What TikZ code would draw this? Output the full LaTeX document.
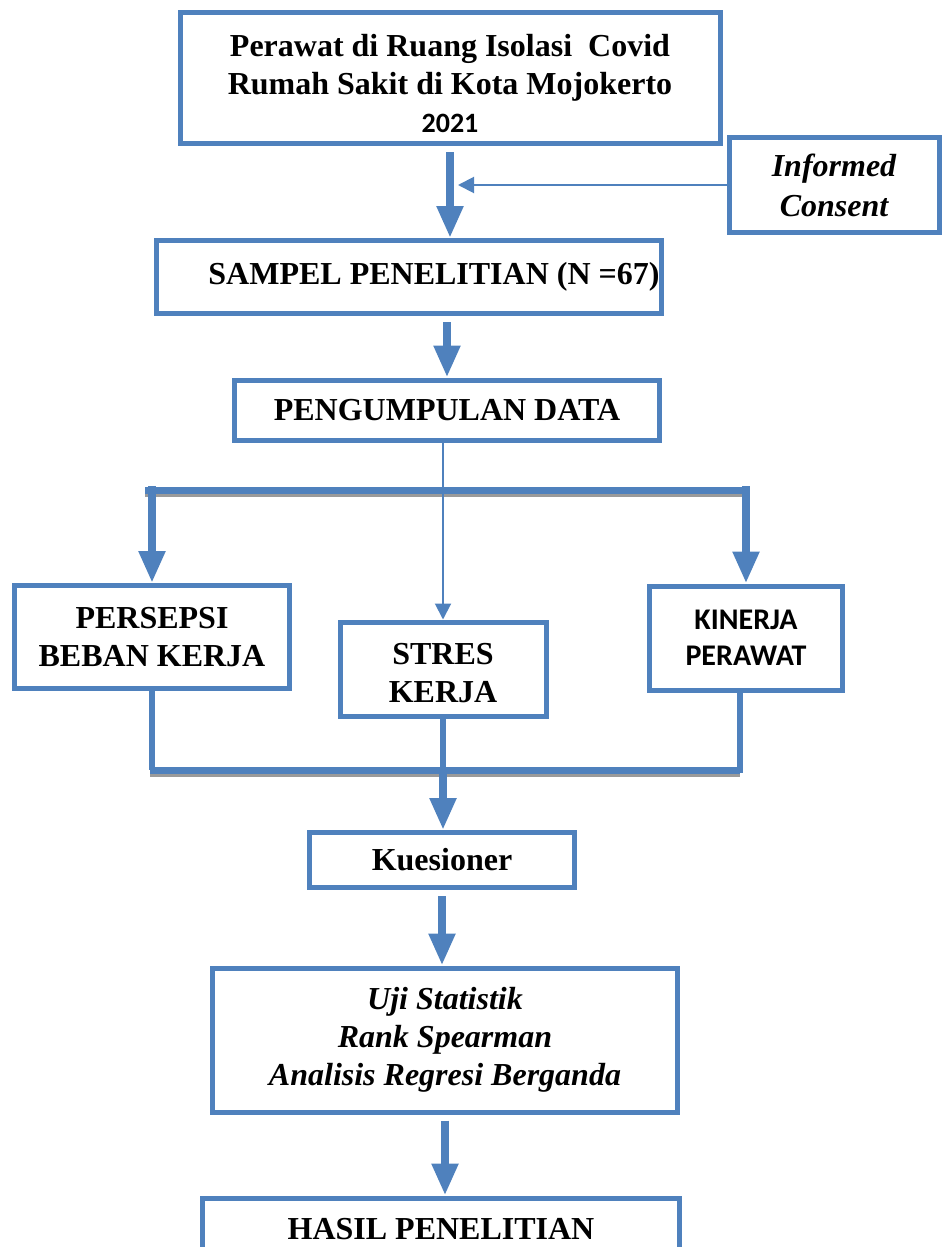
\documentclass[tikz,border=0pt]{standalone}
\usepackage{fontspec}
\setmainfont{Liberation Serif}
\newfontfamily\carlito{Carlito}
\usetikzlibrary{arrows.meta}
\definecolor{flowblue}{HTML}{4F81BD}
\definecolor{barshade}{HTML}{9A9A9A}

\begin{document}
\begin{tikzpicture}[x=1pt,y=-1pt,
  box/.style={draw=flowblue,line width=5pt,align=center,inner sep=0pt,font=\bfseries\fontsize{32}{38}\selectfont},
  bigarrow/.style={flowblue,line width=8pt,-{Triangle[width=25pt,length=32pt]}},
  thinarrow/.style={flowblue,line width=2pt,-{Triangle[width=16pt,length=16pt]}},
  bar/.style={flowblue,line width=7pt},
  shade/.style={barshade,line width=5pt}]
\useasboundingbox (0,0) rectangle (942,1247);
% boxes
\node[box,minimum width=540,minimum height=131] (lokasi) at (450,78) {\rule{0pt}{34pt}Perawat di Ruang Isolasi\ \ Covid\\Rumah Sakit di Kota Mojokerto\\{\carlito\fontsize{28}{34}\selectfont 2021}};
\node[box,minimum width=210,minimum height=95,font=\bfseries\itshape\fontsize{32}{40}\selectfont] (consent) at (834,185) {Informed\\Consent};
\node[box,minimum width=505,minimum height=73] (sampel) at (409,277) {\hspace*{50pt}SAMPEL PENELITIAN (N =67)};
\node[box,minimum width=425,minimum height=60] (kumpul) at (447,410) {PENGUMPULAN DATA};
\node[box,minimum width=275,minimum height=103] (persepsi) at (152,637) {PERSEPSI\\BEBAN KERJA};
\node[box,minimum width=206,minimum height=94] (stres) at (443,669) {\rule{0pt}{30pt}STRES\\KERJA};
\node[box,minimum width=193,minimum height=104,font=\carlito\bfseries\fontsize{30}{36}\selectfont] (kinerja) at (746,638) {KINERJA\\PERAWAT};
\node[box,minimum width=265,minimum height=55] (kuesioner) at (442,860) {Kuesioner};
\node[box,minimum width=465,minimum height=144,font=\bfseries\itshape\fontsize{32}{38}\selectfont] (uji) at (445,1040) {Uji Statistik\\Rank Spearman\\Analisis Regresi Berganda};
\node[box,minimum width=477,minimum height=62] (hasil) at (441,1229) {HASIL PENELITIAN};
% bars
\coordinate (atasL) at (145,490);
\coordinate (atasR) at (743,490);
\coordinate (bawahL) at (150,770);
\coordinate (bawahR) at (740,770);
\coordinate (tip) at (458,185);
\draw[shade] ([yshift=-4pt]atasL) -- ([yshift=-4pt]atasR);
\draw[shade] ([yshift=-4pt]bawahL) -- ([yshift=-4pt]bawahR);
\draw[bar] (atasL) -- (atasR);
\draw[bar] (bawahL) -- (bawahR);
% arrows
\draw[bigarrow,shorten <=6pt] (lokasi.south) -- (lokasi.south |- sampel.north);
\draw[thinarrow] (consent.west) -- (tip);
\draw[bigarrow,shorten <=6pt] (sampel.south -| kumpul.north) -- (kumpul.north);
\draw[thinarrow] (stres.north |- kumpul.south) -- (stres.north);
\draw[bigarrow] ([yshift=4pt]atasL -| persepsi.north) -- (persepsi.north);
\draw[bigarrow] ([yshift=4pt]atasR -| kinerja.north) -- (kinerja.north);
\draw[bar,line width=6pt] (persepsi.south) -- (persepsi.south |- bawahL);
\draw[bar,line width=6pt] (kinerja.south) ++(-6,0) -- ++(0,80);
\draw[bar,line width=6pt] (stres.south) -- (stres.south |- bawahL);
\draw[bigarrow] (stres.south |- bawahL) -- (kuesioner.north -| stres.south);
\draw[bigarrow,shorten <=6pt] (kuesioner.south) -- (kuesioner.south |- uji.north);
\draw[bigarrow,shorten <=6pt] (uji.south) -- (uji.south |- hasil.north);
\end{tikzpicture}
\end{document}
